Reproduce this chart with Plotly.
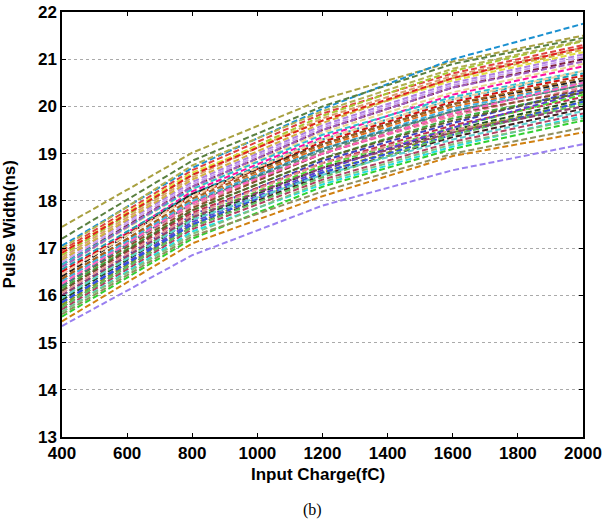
import plotly.graph_objects as go

charges = [400, 800, 1200, 1600, 2000]

series_values = [
    [17.45, 19.02, 20.15, 20.95, 21.50],
    [17.05, 18.70, 19.95, 21.00, 21.75],
    [17.20, 18.85, 20.00, 20.90, 21.45],
    [16.95, 18.65, 19.85, 20.70, 21.30],
    [16.85, 18.55, 19.80, 20.75, 21.38],
    [16.80, 18.50, 19.75, 20.65, 21.25],
    [16.75, 18.40, 19.60, 20.50, 21.10],
    [16.70, 18.35, 19.55, 20.45, 21.05],
    [16.65, 18.30, 19.50, 20.40, 21.00],
    [16.60, 18.25, 19.45, 20.30, 20.90],
    [16.45, 18.20, 19.35, 20.25, 20.85],
    [16.55, 18.15, 19.30, 20.15, 20.70],
    [16.50, 18.10, 19.25, 20.10, 20.65],
    [16.40, 18.15, 19.20, 20.05, 20.55],
    [16.35, 18.00, 19.15, 20.00, 20.50],
    [16.30, 17.95, 19.05, 19.90, 20.45],
    [16.25, 17.90, 19.00, 19.80, 20.40],
    [16.20, 17.85, 19.00, 19.85, 20.35],
    [16.90, 18.60, 19.70, 20.55, 21.15],
    [16.65, 18.25, 19.40, 20.20, 20.75],
    [16.15, 17.80, 18.90, 19.75, 20.30],
    [16.00, 17.70, 18.85, 19.65, 20.35],
    [16.10, 17.75, 18.80, 19.60, 20.20],
    [15.95, 17.65, 18.75, 19.55, 20.25],
    [15.90, 17.60, 18.70, 19.50, 20.15],
    [16.05, 17.70, 18.80, 19.50, 20.00],
    [15.85, 17.55, 18.65, 19.55, 20.30],
    [15.80, 17.50, 18.60, 19.45, 20.10],
    [15.75, 17.45, 18.55, 19.35, 19.95],
    [15.70, 17.40, 18.45, 19.25, 19.85],
    [15.65, 17.35, 18.35, 19.15, 19.80],
    [15.55, 17.20, 18.30, 19.10, 19.70],
    [15.60, 17.25, 18.20, 19.00, 19.55],
    [15.45, 17.10, 18.10, 18.95, 19.45],
    [15.35, 16.85, 17.90, 18.65, 19.20],
    [15.85, 17.50, 18.60, 19.40, 20.10],
    [16.30, 18.00, 19.10, 19.95, 20.50],
    [16.75, 18.45, 19.65, 20.60, 21.20],
    [17.00, 18.75, 19.90, 20.80, 21.40],
    [16.60, 18.30, 19.50, 20.40, 20.95],
    [16.20, 17.95, 19.10, 19.90, 20.45],
    [16.90, 18.55, 19.70, 20.60, 21.25],
    [16.25, 17.95, 19.00, 19.85, 20.50],
    [16.10, 17.80, 18.90, 19.70, 20.30],
    [15.75, 17.45, 18.50, 19.40, 20.05],
    [16.45, 18.10, 19.30, 20.15, 20.75],
    [16.00, 17.65, 18.70, 19.45, 20.00],
    [15.95, 17.60, 18.55, 19.30, 19.90],
    [16.35, 18.05, 19.20, 20.05, 20.60],
    [15.65, 17.30, 18.40, 19.20, 19.75],
]

series_colors = [
    "#a8a040", "#1a90d0", "#5a8040", "#e04040", "#a8c830", "#d8a070", "#b080e0",
    "#c8a0f0", "#802040", "#e8d890", "#ff10a0", "#20a0b0", "#d01010", "#202020",
    "#e07020", "#709070", "#f080a0", "#8a5030", "#e0e040", "#30c0d0", "#40b040",
    "#4040c0", "#c03050", "#50e030", "#205020", "#e09090", "#6040d0", "#80a020",
    "#402020", "#b04060", "#20e0e0", "#30d030", "#909060", "#d08010", "#9a80f0",
    "#3050e0", "#40b0e0", "#d0b040", "#b0b050", "#a060c0", "#408080", "#e02020",
    "#ff60c0", "#606030", "#60c060", "#f0d0a0", "#904070", "#60d0d0", "#a06020",
    "#80c080",
]

y_ticks = [13, 14, 15, 16, 17, 18, 19, 20, 21, 22]
x_ticks = [400, 600, 800, 1000, 1200, 1400, 1600, 1800, 2000]

fig = go.Figure()
for vals, col in zip(series_values, series_colors):
    fig.add_trace(go.Scatter(
        x=charges, y=vals, mode="lines",
        line=dict(color=col, width=2, dash="6px,3px"),
        showlegend=False, hoverinfo="skip",
    ))

font_bold = dict(family="Liberation Sans, Arial, sans-serif", size=17, color="black", weight="bold")

fig.update_layout(
    width=603, height=523,
    margin=dict(l=62, r=20, t=12, b=86),
    paper_bgcolor="white", plot_bgcolor="white",
    xaxis=dict(
        range=[400, 2000], tickvals=x_ticks, ticktext=[str(v) for v in x_ticks],
        ticks="inside", ticklen=4, tickcolor="black", showline=True, linecolor="black",
        linewidth=1.5, mirror="allticks", showgrid=False, zeroline=False,
        tickfont=font_bold, automargin=False,
    ),
    yaxis=dict(
        range=[13, 22], tickvals=y_ticks, ticktext=[str(v) for v in y_ticks],
        ticks="inside", ticklen=4, tickcolor="black", showline=True, linecolor="black",
        linewidth=1.5, mirror="allticks", showgrid=True, gridcolor="#aaaaaa",
        griddash="dot", gridwidth=1, zeroline=False,
        tickfont=font_bold, automargin=False,
    ),
    annotations=[
        dict(text="Input Charge(fC)", x=0.491, y=-0.0894, xref="paper", yref="paper",
             xanchor="center", yanchor="middle", showarrow=False, font=font_bold),
        dict(text="Pulse Width(ns)", x=-0.1, y=0.5, xref="paper", yref="paper",
             xanchor="center", yanchor="middle", showarrow=False, textangle=-90,
             font=font_bold),
        dict(text="(b)", x=0.48, y=-0.172, xref="paper", yref="paper",
             xanchor="center", yanchor="middle", showarrow=False,
             font=dict(family="Liberation Serif, Times New Roman, serif", size=16, color="black")),
    ],
)

fig.write_html("out.html", config={"displayModeBar": False},
               post_script="document.body.style.margin='0';")
